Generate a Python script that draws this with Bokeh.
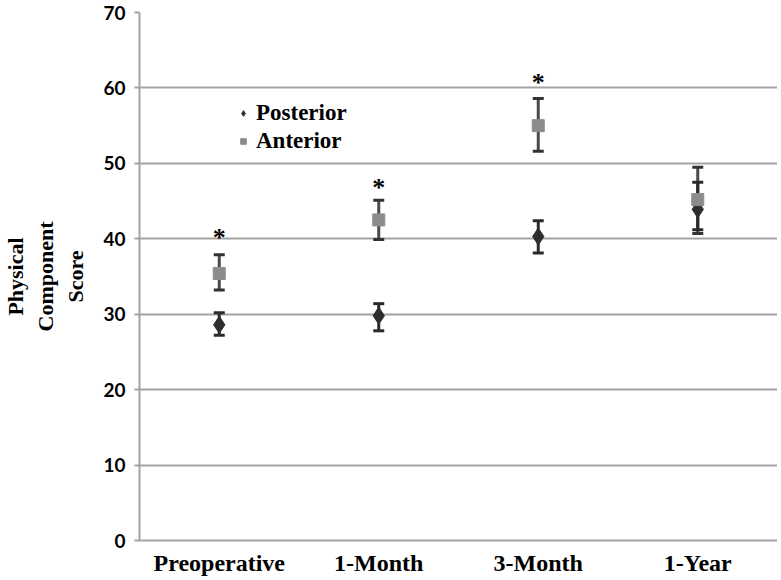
from bokeh.plotting import figure
from bokeh.models import ColumnDataSource, Whisker, TeeHead, Legend, LegendItem, FixedTicker
from bokeh.core.properties import value
from bokeh.embed import file_html
from bokeh.resources import INLINE

categories = ["Preoperative", "1-Month", "3-Month", "1-Year"]
posterior_mean = [28.6, 29.8, 40.3, 43.9]
posterior_low = [27.2, 27.8, 38.1, 41.2]
posterior_high = [30.2, 31.4, 42.4, 47.5]
anterior_mean = [35.4, 42.5, 55.0, 45.2]
anterior_low = [33.2, 39.9, 51.6, 40.7]
anterior_high = [37.9, 45.1, 58.6, 49.5]
star_categories = ["Preoperative", "1-Month", "3-Month"]
star_y = [40.7, 47.3, 61.3]
y_ticks = [0, 10, 20, 30, 40, 50, 60, 70]
y_title = "Physical\nComponent\nScore"

SERIF = "Liberation Serif"
SANS = "Lato"
GRID = "#a3a3a3"

p = figure(x_range=categories, y_range=(0, 70), width=777, height=578,
           output_backend="svg", toolbar_location=None,
           min_border_left=139, min_border_right=0, min_border_top=12, min_border_bottom=36)
p.outline_line_color = None
p.background_fill_color = "white"
p.border_fill_color = "white"

p.xgrid.grid_line_color = None
p.ygrid.grid_line_color = GRID
p.ygrid.grid_line_width = 2
p.yaxis.ticker = FixedTicker(ticks=y_ticks)

for ax in (p.xaxis, p.yaxis):
    ax.axis_line_color = GRID
    ax.axis_line_width = 2
    ax.minor_tick_line_color = None
    ax.major_tick_line_color = GRID
    ax.major_tick_line_width = 2
    ax.major_tick_in = 0

p.xaxis.major_tick_out = 0
p.xaxis.major_label_text_font = SERIF
p.xaxis.major_label_text_font_style = "bold"
p.xaxis.major_label_text_font_size = "24px"
p.xaxis.major_label_text_color = "black"
p.xaxis.major_label_standoff = 9

p.yaxis.major_tick_out = 5
p.yaxis.major_label_text_font = SANS
p.yaxis.major_label_text_font_style = "bold"
p.yaxis.major_label_text_font_size = "19px"
p.yaxis.major_label_text_color = "black"
p.yaxis.major_label_standoff = 9
p.yaxis.axis_label = y_title
p.yaxis.axis_label_text_font = SERIF
p.yaxis.axis_label_text_font_style = "bold"
p.yaxis.axis_label_text_font_size = "22px"
p.yaxis.axis_label_text_color = "black"
p.yaxis.axis_label_standoff = 12

post_src = ColumnDataSource(dict(x=categories, y=posterior_mean, lo=posterior_low, hi=posterior_high))
ant_src = ColumnDataSource(dict(x=categories, y=anterior_mean, lo=anterior_low, hi=anterior_high))

ant_wh = Whisker(source=ant_src, base="x", upper="hi", lower="lo",
                 line_color="#4a4a4a", line_width=3,
                 upper_head=TeeHead(size=11, line_color="#333333", line_width=3),
                 lower_head=TeeHead(size=11, line_color="#333333", line_width=3))
post_wh = Whisker(source=post_src, base="x", upper="hi", lower="lo",
                  line_color="#2a2a2a", line_width=3,
                  upper_head=TeeHead(size=11, line_color="#2a2a2a", line_width=3),
                  lower_head=TeeHead(size=11, line_color="#2a2a2a", line_width=3))
p.add_layout(ant_wh)
p.add_layout(post_wh)

r_post = p.scatter("x", "y", source=post_src, marker="diamond", size=17,
                   fill_color="#2e2e2e", line_color="#2e2e2e")
r_ant = p.scatter("x", "y", source=ant_src, marker="square", size=12,
                  fill_color="#8c8c8c", line_color="#8c8c8c")

p.text(x=star_categories, y=star_y, text=["*"] * len(star_y),
       text_font=value(SERIF), text_font_style="bold", text_font_size="26px",
       text_align="center", text_baseline="middle", text_color="black",
       y_offset=4)

legend = Legend(items=[LegendItem(label="Posterior", renderers=[r_post]),
                       LegendItem(label="Anterior", renderers=[r_ant])],
                location=(97, 386))
legend.background_fill_alpha = 0
legend.border_line_color = None
legend.label_text_font = SERIF
legend.label_text_font_style = "bold"
legend.label_text_font_size = "23px"
legend.label_text_color = "black"
legend.glyph_width = 14
legend.glyph_height = 14
legend.label_standoff = 6
legend.padding = 0
legend.spacing = 2
legend.margin = 0
p.add_layout(legend, "center")

open("out.html", "w").write(file_html(p, INLINE))
